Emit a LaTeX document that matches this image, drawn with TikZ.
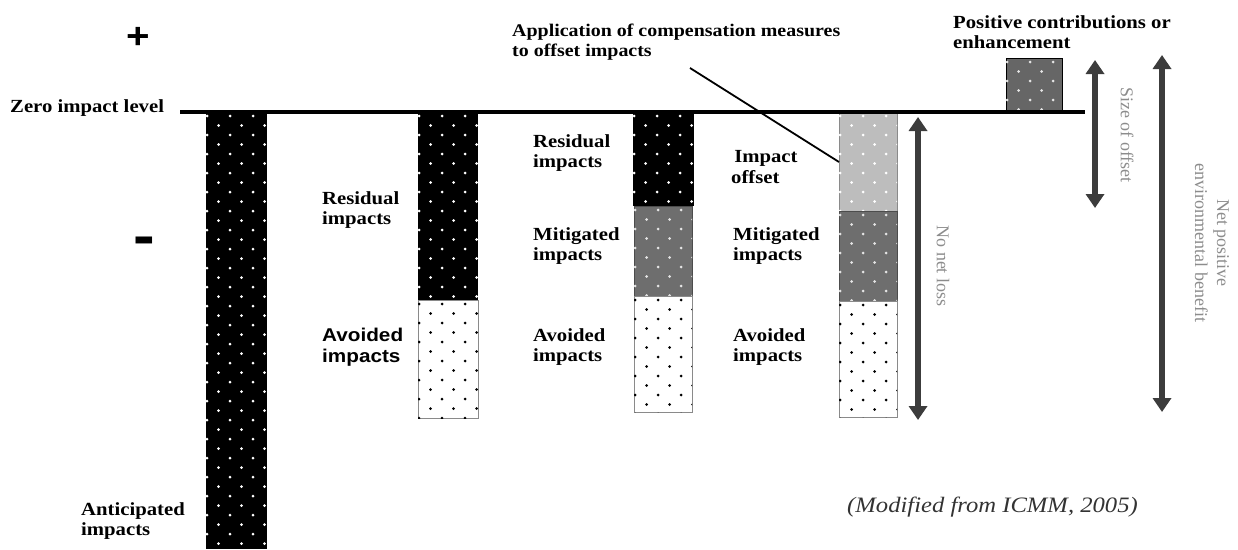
\documentclass[tikz,border=0pt]{standalone}
\usepackage{fontspec}
\setmainfont[FakeStretch=1.12]{Liberation Serif}
\newfontfamily\plainserif{Liberation Serif}
\setsansfont[FakeStretch=1.12]{Liberation Sans}
\usetikzlibrary{arrows.meta}

\definecolor{midgrey}{HTML}{6E6E6E}
\definecolor{boxgrey}{HTML}{666666}
\definecolor{lightgrey}{HTML}{BDBDBD}
\definecolor{arrowgrey}{HTML}{3C3C3C}
\definecolor{labelgrey}{HTML}{8C8C8C}
\definecolor{edgegrey}{HTML}{8A8A8A}

% dotted texture inside a rectangle: x1 y1 x2 y2 dotcolour
\newcommand\dotfield[5]{%
  \begin{scope}
    \clip (#1,#2) rectangle (#3,#4);
    \foreach \j in {0,...,48}{
      \foreach \i in {0,...,3}{
        \fill[#5] ({#1+1+\i*23+mod(\j,2)*11.5},{#2+4+\j*9.5}) circle[radius=1.5pt];
      }
    }
  \end{scope}}

\tikzset{
  seg/.style={anchor=north west, inner sep=0pt, outer sep=0pt},
  lbl/.style={anchor=west, align=left, inner sep=0pt,
    font=\fontsize{18.5}{20.5}\selectfont\bfseries},
  slbl/.style={anchor=west, align=left, inner sep=0pt,
    font=\fontsize{18.5}{20.5}\selectfont\sffamily\bfseries},
  glbl/.style={rotate=-90, align=center, inner sep=0pt, text=labelgrey,
    font=\fontsize{18}{22}\selectfont\plainserif},
  dbl/.style={draw=arrowgrey, line width=5.5pt,
    {Triangle[width=18pt,length=14pt]}-{Triangle[width=18pt,length=14pt]}},
}

\begin{document}
\begin{tikzpicture}[x=1pt,y=-1pt]
\useasboundingbox (0,0) rectangle (1238,549);

% ---- bar 1: anticipated impacts
\node[seg, fill=black, minimum width=61pt, minimum height=437pt] (b1) at (206,112) {};
\dotfield{206}{112}{267}{549}{white}

% ---- bar 2
\node[seg, fill=black, minimum width=60pt, minimum height=188pt] (b2r) at (418,112) {};
\dotfield{418}{112}{478}{300}{white}
\node[seg, fill=white, draw=edgegrey, line width=1pt, minimum width=60pt, minimum height=118pt] (b2a) at (418,300) {};
\dotfield{418}{300}{478}{418}{black}

% ---- bar 3
\node[seg, fill=black, minimum width=61pt, minimum height=94pt] (b3r) at (633,112) {};
\dotfield{633}{112}{694}{206}{white}
\node[seg, fill=midgrey, draw=black!70, line width=0.8pt, minimum width=58pt, minimum height=90pt] (b3m) at (634,206) {};
\dotfield{634}{206}{692}{296}{white!90!black}
\node[seg, fill=white, draw=edgegrey, line width=1pt, minimum width=58pt, minimum height=116pt] (b3a) at (634,296) {};
\dotfield{634}{296}{692}{412}{black}

% ---- bar 4
\node[seg, fill=lightgrey, draw=edgegrey, line width=0.8pt, minimum width=58pt, minimum height=99pt] (b4o) at (839,112) {};
\dotfield{839}{112}{897}{211}{white}
\node[seg, fill=midgrey, draw=black!70, line width=0.8pt, minimum width=58pt, minimum height=90pt] (b4m) at (839,211) {};
\dotfield{839}{211}{897}{301}{white!90!black}
\node[seg, fill=white, draw=edgegrey, line width=1pt, minimum width=58pt, minimum height=116pt] (b4a) at (839,301) {};
\dotfield{839}{301}{897}{417}{black}

% ---- positive contribution box
\node[seg, fill=boxgrey, draw=black, line width=1pt, minimum width=56pt, minimum height=54pt] (pos) at (1006,58) {};
\dotfield{1006}{58}{1062}{112}{white!90!black}

% ---- zero impact line
\coordinate (zl) at (180,112);
\coordinate (zr) at (1085,112);
\draw[line width=4pt] (zl) -- (zr);

% ---- signs and level label
\node[anchor=base, inner sep=0pt, font=\fontsize{36}{36}\selectfont\sffamily\bfseries] (plus) at (138,48) {+};
\node[anchor=base, inner sep=0pt, font=\fontsize{58}{58}\selectfont\sffamily\bfseries] (minus) at (144,255) {-};
\node[lbl] (zero) at (10,108) {Zero impact level};

% ---- bar labels
\node[lbl] (ant) at (81,521) {Anticipated\\impacts};
\node[lbl] (res2) at (322,210) {Residual\\impacts};
\node[slbl] (av2) at (322,347) {Avoided\\impacts};
\node[lbl] (res3) at (533,153) {Residual\\impacts};
\node[lbl] (mit3) at (533,246) {Mitigated\\impacts};
\node[lbl] (av3) at (533,347) {Avoided\\impacts};
\node[lbl] (off4) at (731,167) {\,Impact\\offset};
\node[lbl] (mit4) at (733,246) {Mitigated\\impacts};
\node[lbl] (av4) at (733,347) {Avoided\\impacts};

% ---- annotations
\node[lbl, font=\fontsize{17.8}{20}\selectfont\bfseries] (app) at (512,42) {Application of compensation measures\\to offset impacts};
\coordinate (leadstart) at (690,68);
\coordinate (leadend) at (839,162);
\draw[line width=1.8pt] (leadstart) -- (leadend);
\node[lbl] (posl) at (953,32) {Positive contributions or\\enhancement};

% ---- arrows
\coordinate (nnlT) at (918,117);
\coordinate (nnlB) at (918,420);
\draw[dbl] (nnlT) -- (nnlB);
\node[glbl] (nnl) at (943,266) {No net loss};

\coordinate (sozT) at (1095,60);
\coordinate (sozB) at (1095,208);
\draw[dbl] (sozT) -- (sozB);
\node[glbl] (soz) at (1127,135) {Size of offset};

\coordinate (npT) at (1162,55);
\coordinate (npB) at (1162,412);
\draw[dbl] (npT) -- (npB);
\node[glbl] (np) at (1212,243) {Net positive\\environmental benefit};

% ---- source
\node[anchor=west, inner sep=0pt, text=black!80, font=\fontsize{22}{24}\selectfont\itshape] (src) at (847,507) {(Modified from ICMM, 2005)};
\end{tikzpicture}
\end{document}
